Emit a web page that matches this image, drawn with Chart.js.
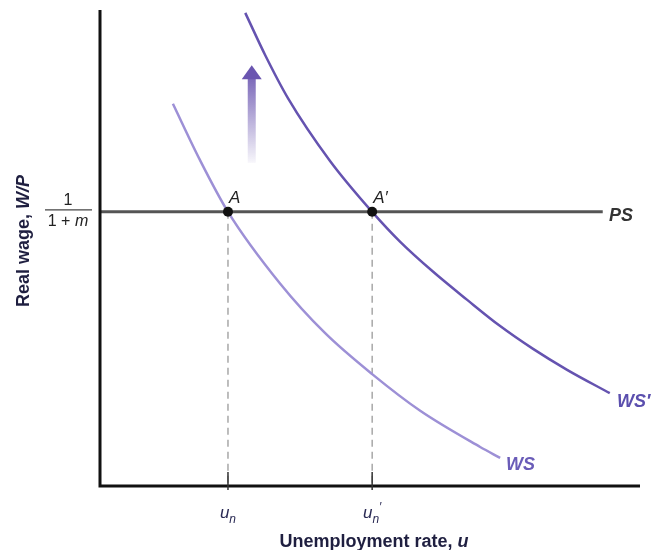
<!DOCTYPE html>
<html>
<head>
<meta charset="utf-8">
<script src="https://cdn.jsdelivr.net/npm/chart.js@4.4.0/dist/chart.umd.min.js"></script>
<style>
  html, body { margin: 0; padding: 0; background: #fff; }
  canvas { display: block; }
</style>
</head>
<body>
<canvas id="labourChart" width="657" height="550"></canvas>
<script>
// wage-setting curve WS (unemployment u, real wage W/P)
const wsU = [1.35, 1.85, 2.37, 3.33, 4.17, 5.04, 5.93, 7.04, 7.41];
const wsW = [8.03, 6.85, 5.76, 4.26, 3.21, 2.35, 1.58, 0.82, 0.59];

// shifted wage-setting curve WS'
const wsPrimeU = [2.69, 3.06, 3.48, 4.26, 5.04, 5.56, 6.17, 6.80, 7.41, 8.02, 8.65, 9.44];
const wsPrimeW = [9.94, 9.05, 8.15, 6.83, 5.76, 5.13, 4.50, 3.91, 3.36, 2.88, 2.44, 1.95];

// price-setting line PS
const psU = [0, 9.31];
const psW = 5.76;

// equilibria A and A'
const eqU = [2.37, 5.04];
const eqLabels = ['A', 'A\u2032'];
const tickLabels = ['u', 'u']; // each with subscript n
const tickPrimes = ['', '\u2032'];

// arrow showing the upward shift
const arrowU = 2.81;
const arrowFrom = 6.79;
const arrowTo = 8.84;

const FONT = '"Liberation Sans", Arial, Helvetica, sans-serif';

const toPts = (xs, ys) => xs.map((x, i) => ({ x: x, y: ys[i] }));

// draws a sequence of text runs with different fonts, centred on x
function drawRuns(ctx, x, y, runs, align) {
    let total = 0;
    runs.forEach(r => { ctx.font = r.font; total += ctx.measureText(r.t).width; });
    let cx = align === 'left' ? x : x - total / 2;
    runs.forEach(r => {
        ctx.font = r.font;
        ctx.fillStyle = r.color || '#222';
        ctx.textAlign = 'left';
        ctx.textBaseline = 'alphabetic';
        ctx.fillText(r.t, cx, y + (r.dy || 0));
        cx += ctx.measureText(r.t).width;
    });
}

const decorPlugin = {
    id: 'decor',
    beforeDatasetsDraw(chart) {
        const ctx = chart.ctx;
        const xs = chart.scales.x, ys = chart.scales.y;
        ctx.save();

        // arrow with fading shaft
        const ax = xs.getPixelForValue(arrowU);
        const yBottom = ys.getPixelForValue(arrowFrom);
        const yTip = ys.getPixelForValue(arrowTo);
        const grad = ctx.createLinearGradient(0, yBottom, 0, yTip);
        grad.addColorStop(0, 'rgba(106,85,176,0.05)');
        grad.addColorStop(1, 'rgba(106,85,176,1)');
        ctx.fillStyle = grad;
        ctx.fillRect(ax - 4, yTip + 12, 8, yBottom - yTip - 12);
        ctx.fillStyle = '#6a55b0';
        ctx.beginPath();
        ctx.moveTo(ax, yTip);
        ctx.lineTo(ax + 10, yTip + 14);
        ctx.lineTo(ax - 10, yTip + 14);
        ctx.closePath();
        ctx.fill();

        ctx.restore();
    },
    afterDatasetsDraw(chart) {
        const ctx = chart.ctx;
        const xs = chart.scales.x, ys = chart.scales.y;
        const a = chart.chartArea;
        const x0 = xs.getPixelForValue(0);
        const y0 = ys.getPixelForValue(0);
        ctx.save();

        // axes
        ctx.strokeStyle = '#111';
        ctx.lineWidth = 3;
        ctx.beginPath();
        ctx.moveTo(x0, a.top);
        ctx.lineTo(x0, y0);
        ctx.lineTo(a.right, y0);
        ctx.stroke();

        // short ticks at the natural rates
        ctx.lineWidth = 1.5;
        ctx.strokeStyle = '#333';
        eqU.forEach(u => {
            const px = xs.getPixelForValue(u);
            ctx.beginPath();
            ctx.moveTo(px, y0 - 14);
            ctx.lineTo(px, y0 + 4);
            ctx.stroke();
        });

        // tick labels u_n and u_n'
        eqU.forEach((u, i) => {
            const px = xs.getPixelForValue(u);
            drawRuns(ctx, px, 518, [
                { t: tickLabels[i], font: 'italic 17px ' + FONT, color: '#2b2b55' },
                { t: 'n', font: 'italic 12px ' + FONT, dy: 5, color: '#2b2b55' },
                { t: tickPrimes[i], font: 'italic 12px ' + FONT, dy: -7, color: '#2b2b55' }
            ]);
        });

        // x axis title
        drawRuns(ctx, 374, 547, [
            { t: 'Unemployment rate, ', font: 'bold 18px ' + FONT, color: '#1f1f40' },
            { t: 'u', font: 'bold italic 18px ' + FONT, color: '#1f1f40' }
        ]);

        // y axis title
        ctx.save();
        ctx.translate(29, 241);
        ctx.rotate(-Math.PI / 2);
        drawRuns(ctx, 0, 0, [
            { t: 'Real wage, ', font: 'bold 18px ' + FONT, color: '#1f1f40' },
            { t: 'W/P', font: 'bold italic 18px ' + FONT, color: '#1f1f40' }
        ]);
        ctx.restore();

        // 1 / (1 + m) on the wage axis
        const py = ys.getPixelForValue(psW);
        drawRuns(ctx, 68, py - 7, [{ t: '1', font: '16px ' + FONT, color: '#222' }]);
        ctx.strokeStyle = '#444';
        ctx.lineWidth = 1.2;
        ctx.beginPath();
        ctx.moveTo(45, py - 2);
        ctx.lineTo(92, py - 2);
        ctx.stroke();
        drawRuns(ctx, 68, py + 14, [
            { t: '1 + ', font: '16px ' + FONT, color: '#222' },
            { t: 'm', font: 'italic 16px ' + FONT, color: '#222' }
        ]);

        // point labels
        eqU.forEach((u, i) => {
            const px = xs.getPixelForValue(u);
            drawRuns(ctx, px + 1, py - 9, [{ t: eqLabels[i], font: 'italic 17px ' + FONT, color: '#222' }], 'left');
        });

        // curve labels
        drawRuns(ctx, 609, py + 9, [{ t: 'PS', font: 'bold italic 18px ' + FONT, color: '#333' }], 'left');
        drawRuns(ctx, 617, 407, [{ t: 'WS\u2032', font: 'bold italic 18px ' + FONT, color: '#5b4fae' }], 'left');
        drawRuns(ctx, 506, 470, [{ t: 'WS', font: 'bold italic 18px ' + FONT, color: '#6a5cb8' }], 'left');

        ctx.restore();
    }
};

const dashedSets = eqU.map(u => ({
    data: [{ x: u, y: psW }, { x: u, y: 0 }],
    borderColor: '#9a9a9a',
    borderWidth: 1.3,
    borderDash: [7, 5],
    pointRadius: 0,
    showLine: true,
    fill: false,
    order: 5
}));

new Chart(document.getElementById('labourChart'), {
    type: 'scatter',
    data: {
        datasets: [
            ...dashedSets,
            {
                label: 'PS',
                data: psU.map(u => ({ x: u, y: psW })),
                borderColor: '#555',
                borderWidth: 3,
                pointRadius: 0,
                showLine: true,
                order: 4
            },
            {
                label: 'WS',
                data: toPts(wsU, wsW),
                borderColor: '#9d90d6',
                borderWidth: 2.5,
                pointRadius: 0,
                showLine: true,
                cubicInterpolationMode: 'monotone',
                order: 3
            },
            {
                label: "WS'",
                data: toPts(wsPrimeU, wsPrimeW),
                borderColor: '#6553b0',
                borderWidth: 2.5,
                pointRadius: 0,
                showLine: true,
                cubicInterpolationMode: 'monotone',
                order: 2
            },
            {
                label: 'equilibria',
                data: eqU.map(u => ({ x: u, y: psW })),
                pointRadius: 5,
                pointBackgroundColor: '#111',
                pointBorderColor: '#111',
                pointBorderWidth: 0,
                showLine: false,
                order: 0
            }
        ]
    },
    options: {
        responsive: false,
        animation: false,
        layout: { padding: { left: 100, right: 17, top: 10, bottom: 64 } },
        scales: {
            x: { type: 'linear', min: 0, max: 10, display: false },
            y: { type: 'linear', min: 0, max: 10, display: false }
        },
        plugins: {
            legend: { display: false },
            tooltip: { enabled: false }
        }
    },
    plugins: [decorPlugin]
});
</script>
</body>
</html>
